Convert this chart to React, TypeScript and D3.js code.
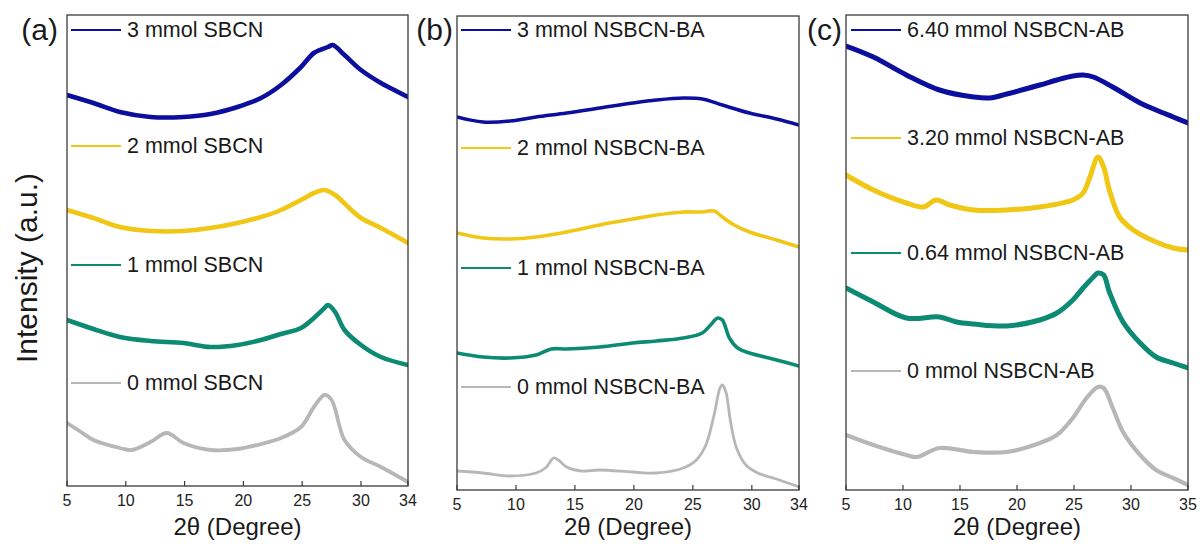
import React from "react";
import * as d3 from "d3";

type Pt = [number, number];

// ---- tick labels ----
const ticksAB = [5, 10, 15, 20, 25, 30, 34];
const ticksC = [5, 10, 15, 20, 25, 30, 35];

// ---- legend labels ----
const labelsA = ["3 mmol SBCN", "2 mmol SBCN", "1 mmol SBCN", "0 mmol SBCN"];
const labelsB = ["3 mmol NSBCN-BA", "2 mmol NSBCN-BA", "1 mmol NSBCN-BA", "0 mmol NSBCN-BA"];
const labelsC = ["6.40 mmol NSBCN-AB", "3.20 mmol NSBCN-AB", "0.64 mmol NSBCN-AB", "0 mmol NSBCN-AB"];

// ---- series (2θ in degrees, intensity in a.u.) ----
const a3: Pt[] = [[5,391],[7.25,383],[9.5,374],[12.1,369],[14.9,369],[17.2,372],[19.5,379],[21.5,388],[23.2,401],[24.9,419],[26,433],[27.2,439],[27.6,441],[28.6,431],[30,416],[31.7,403],[34,389]];
const a2: Pt[] = [[5,276],[7.25,268],[9.5,259],[12.1,255],[14.9,255],[17.2,258],[19.5,263],[21.5,269],[23.2,276],[24.9,286],[26,293],[26.9,296],[27.8,291],[29,278],[30,268],[31.7,258],[34,243]];
const a1: Pt[] = [[5,166],[7.25,157],[9.5,149],[12.1,145],[14.9,143],[17.2,139],[19.5,141],[21.5,146],[23.2,152],[24.9,158],[26,168],[26.9,178],[27.2,181],[27.8,174],[28.6,156],[30,141],[31.7,129],[34,121]];
const a0: Pt[] = [[5,63],[6.2,54],[7.25,46],[9.5,38],[10.5,36],[12.1,44],[13.5,53],[14.9,43],[17.2,36],[19.5,37],[21.5,42],[23.2,48],[24.9,59],[26,79],[26.9,91],[27.5,86],[28.2,59],[28.6,46],[30,29],[31.7,19],[34,4]];

const b3: Pt[] = [[5,373],[7.2,368],[9.5,369],[11.7,373],[14.3,377],[17.1,382],[19.9,387],[21.9,390],[24.2,392],[25.8,391],[27.5,385],[29.8,377],[32.1,371],[34,365]];
const b2: Pt[] = [[5,257],[7.2,252],[9.5,251],[11.7,253],[14.3,258],[17.1,265],[19.9,271],[21.9,275],[24.2,278],[25.8,278],[26.8,279],[27.5,273],[28.5,265],[29.8,258],[32.1,250],[34,243]];
const b1: Pt[] = [[5,137],[7.2,133],[9.5,132],[11.7,135],[13,141],[14.3,141],[17.1,143],[19.9,147],[21.9,149],[24.2,152],[25.8,157],[26.5,165],[27.1,172],[27.5,170],[28.1,152],[28.8,142],[29.8,137],[32.1,130],[34,124]];
const b0: Pt[] = [[5,19],[7.2,17],[9.5,14],[11.7,17],[12.5,22],[13.2,32],[13.6,30],[14.3,23],[15.5,19],[17.1,20],[19.9,18],[21.9,17],[24.2,22],[25.3,30],[26.1,45],[26.8,75],[27.3,102],[27.5,105],[27.8,98],[28.2,68],[28.7,42],[29.5,25],[30.5,17],[32.1,11],[34,3]];

const c3: Pt[] = [[5,444],[7.4,433],[10.3,415],[13.2,400],[16.2,393],[17.6,392],[19.1,396],[22,405],[23.5,410],[24.9,414],[25.8,415],[26.7,413],[28.4,403],[30.8,387],[32.2,380],[33.7,373],[35,367]];
const c2: Pt[] = [[5,315],[7.4,300],[10.3,287],[11.8,283],[12.9,290],[14.1,285],[16.2,280],[19.1,280],[22,283],[24.9,290],[25.8,297],[26.4,313],[27.1,333],[27.6,323],[28.1,300],[29,273],[30.2,260],[32.2,248],[33.7,242],[35,240]];
const c1: Pt[] = [[5,202],[7.4,188],[10.3,172],[13.2,173],[14.7,168],[16.2,166],[19.1,164],[22,170],[23.5,177],[24.9,190],[25.8,202],[26.7,213],[27.1,217],[27.6,215],[28.1,198],[29.3,168],[30.8,147],[32.2,133],[33.7,127],[35,122]];
const c0: Pt[] = [[5,55],[7.4,45],[10.3,35],[11.2,33],[13.2,42],[16.2,38],[19.1,38],[22,47],[23.5,55],[24.9,72],[26.1,92],[27.1,103],[27.6,102],[28.4,82],[29.3,58],[30.8,35],[32.2,20],[33.7,12],[35,5]];

const colors = ["#0c0f9d", "#efc714", "#0c8a73", "#b7b7b7"];

interface PanelCfg {
  id: string;
  tag: string;
  tagX: number;
  left: number;
  right: number;
  top: number;
  bottom: number;
  xDomain: [number, number];
  yMax: number;
  ticks: number[];
  labels: string[];
  series: Pt[][];
  legendY: number[];
  legendX: number;
  lineW: number;
}

const panels: PanelCfg[] = [
  { id: "a", tag: "(a)", tagX: 58, left: 67, right: 408, top: 15, bottom: 486, xDomain: [5, 34], yMax: 471, ticks: ticksAB, labels: labelsA, series: [a3, a2, a1, a0], legendY: [30, 146, 265, 383], legendX: 71, lineW: 4.6 },
  { id: "b", tag: "(b)", tagX: 453, left: 457, right: 799, top: 16, bottom: 490, xDomain: [5, 34], yMax: 474, ticks: ticksAB, labels: labelsB, series: [b3, b2, b1, b0], legendY: [30, 148, 268, 387], legendX: 461, lineW: 3.6 },
  { id: "c", tag: "(c)", tagX: 842, left: 846, right: 1188, top: 15, bottom: 490, xDomain: [5, 35], yMax: 475, ticks: ticksC, labels: labelsC, series: [c3, c2, c1, c0], legendY: [30, 138, 253, 371], legendX: 851, lineW: 5 },
];

const FONT = "'Liberation Sans', Arial, Helvetica, sans-serif";

function Panel({ p }: { p: PanelCfg }) {
  const x = d3.scaleLinear().domain(p.xDomain).range([p.left, p.right]);
  const y = d3.scaleLinear().domain([0, p.yMax]).range([p.bottom, p.top]);
  const line = d3
    .line<Pt>()
    .x((d) => x(d[0]))
    .y((d) => y(d[1]))
    .curve(d3.curveCatmullRom.alpha(0.5));
  const clipId = `clip-${p.id}`;
  const cx = (p.left + p.right) / 2;
  return (
    <g>
      <defs>
        <clipPath id={clipId}>
          <rect x={p.left} y={p.top} width={p.right - p.left} height={p.bottom - p.top} />
        </clipPath>
      </defs>
      <g clipPath={`url(#${clipId})`}>
        {p.series.map((s, i) => (
          <path
            key={i}
            d={line(s) || ""}
            fill="none"
            stroke={colors[i]}
            strokeWidth={i === 3 ? p.lineW - 0.8 : p.lineW}
            strokeLinejoin="round"
            strokeLinecap="round"
          />
        ))}
      </g>
      <rect
        x={p.left}
        y={p.top}
        width={p.right - p.left}
        height={p.bottom - p.top}
        fill="none"
        stroke="#3a3a3a"
        strokeWidth={1.3}
      />
      {p.ticks.map((t) => (
        <g key={t}>
          <line x1={x(t)} x2={x(t)} y1={p.bottom} y2={p.bottom - 5} stroke="#3a3a3a" strokeWidth={1.2} />
          <text
            x={x(t)}
            y={p.bottom + 20}
            textAnchor="middle"
            fontFamily={FONT}
            fontSize={16}
            fill="#222"
          >
            {t}
          </text>
        </g>
      ))}
      {p.labels.map((lab, i) => (
        <g key={lab}>
          <line
            x1={p.legendX}
            x2={p.legendX + 50}
            y1={p.legendY[i]}
            y2={p.legendY[i]}
            stroke={colors[i]}
            strokeWidth={2}
          />
          <text
            x={p.legendX + 56}
            y={p.legendY[i]}
            dominantBaseline="central"
            fontFamily={FONT}
            fontSize={21.5}
            fill="#1a1a1a"
          >
            {lab}
          </text>
        </g>
      ))}
      <text x={cx} y={535} textAnchor="middle" fontFamily={FONT} fontSize={24} fill="#1a1a1a">
        2θ (Degree)
      </text>
      <text x={p.tagX} y={40} textAnchor="end" fontFamily={FONT} fontSize={30} fill="#1a1a1a">
        {p.tag}
      </text>
    </g>
  );
}

export default function App() {
  return (
    <svg
      width={1200}
      height={544}
      viewBox="0 0 1200 544"
      style={{ position: "absolute", left: 0, top: 0, background: "#fff", display: "block" }}
    >
      <rect x={0} y={0} width={1200} height={544} fill="#fff" />
      {panels.map((p) => (
        <Panel key={p.id} p={p} />
      ))}
      <text
        transform="translate(37,268) rotate(-90)"
        textAnchor="middle"
        fontFamily={FONT}
        fontSize={30}
        fill="#1a1a1a"
      >
        Intensity (a.u.)
      </text>
    </svg>
  );
}
